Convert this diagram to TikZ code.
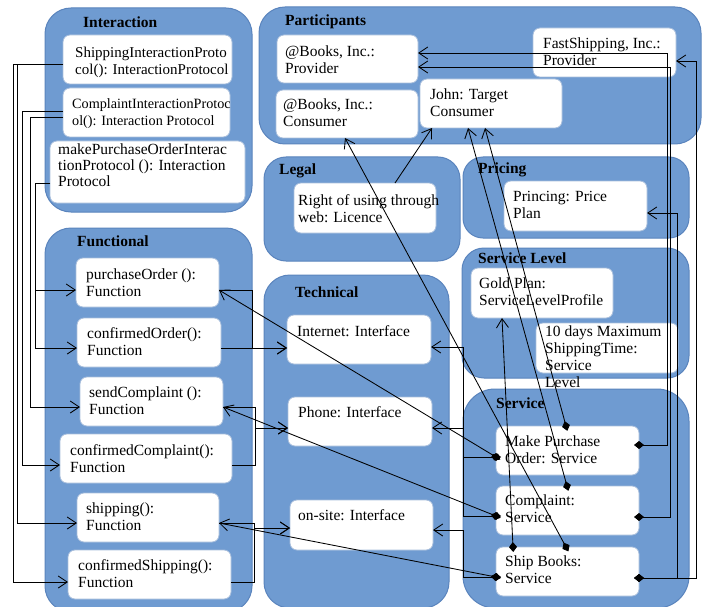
\documentclass[tikz,border=0pt]{standalone}
\usepackage{fontspec}
\setmainfont{Liberation Serif}
\usetikzlibrary{arrows.meta,fit}
\definecolor{contfill}{HTML}{6F9BD1}
\definecolor{contline}{HTML}{5A84BD}
\definecolor{boxline}{HTML}{A8BEDC}
\newcommand\bxfont{\fontsize{15.5}{17}\selectfont}
\newcommand\ttlfont{\fontsize{15.5}{17}\selectfont\bfseries}
\begin{document}
\begin{tikzpicture}[x=1pt,y=-1pt,
  cont/.style={draw=contline, line width=1pt, fill=contfill, rounded corners=26pt, inner sep=0pt, outer sep=0pt},
  wbox/.style={draw=boxline, line width=0.8pt, fill=white, rounded corners=7pt, inner sep=0pt, outer sep=0pt},
  ttl/.style={font=\ttlfont, anchor=base west, inner sep=0pt},
  txt/.style={font=\bxfont, align=left, anchor=north west, inner sep=0pt, yshift=11.9pt},
  wire/.style={line width=0.85pt, draw=black},
  arr/.style={-{Straight Barb[length=9pt,width=12pt]}},
  diarr/.style={{Diamond[length=10pt,width=8pt]}-{Straight Barb[length=9pt,width=12pt]}, shorten <=-5pt},
]
\path[use as bounding box, fill=white] (0,0) rectangle (704,607);

% group containers
\node[cont, fit={(45,8) (252,212)}] (interaction) {};
\node[cont, fit={(45,228) (252,612)}] (functional) {};
\node[cont, fit={(259,7) (701,144)}] (participants) {};
\node[cont, rounded corners=22pt, fit={(264,157) (460,261)}] (legal) {};
\node[cont, rounded corners=20pt, fit={(463,157) (689,238)}] (pricing) {};
\node[cont, rounded corners=22pt, fit={(462,248) (689,378)}] (servicelevel) {};
\node[cont, fit={(264,275) (449,608)}] (technical) {};
\node[cont, rounded corners=32pt, fit={(463,389) (689,608)}] (service) {};

% element boxes
\node[wbox, fit={(63,35) (232,84)}] (shipProt) {};
\node[wbox, fit={(63,88) (230,137)}] (compProt) {};
\node[wbox, fit={(50,141) (245,203)}] (mpoProt) {};
\node[wbox, fit={(76,258) (219,307)}] (fPurchase) {};
\node[wbox, fit={(77,318) (221,367)}] (fConfOrder) {};
\node[wbox, fit={(80,377) (223,426)}] (fSendComp) {};
\node[wbox, fit={(60,434) (232,483)}] (fConfComp) {};
\node[wbox, fit={(77,493) (219,542)}] (fShipping) {};
\node[wbox, fit={(68,550) (231,599)}] (fConfShip) {};
\node[wbox, fit={(277,35) (418,83)}] (pProvider) {};
\node[wbox, fit={(276,90) (418,138)}] (pConsumer) {};
\node[wbox, fit={(420,79) (562,128)}] (pJohn) {};
\node[wbox, fit={(533,28) (676,77)}] (pFast) {};
\node[wbox, fit={(294,183) (436,233)}] (lRight) {};
\node[wbox, fit={(504,181) (647,231)}] (prPlan) {};
\node[wbox, fit={(471,268) (613,318)}] (slGold) {};
\node[wbox, fit={(536,323) (678,373)}] (slDays) {};
\node[wbox, fit={(287,315) (431,364)}] (tInternet) {};
\node[wbox, fit={(288,397) (432,446)}] (tPhone) {};
\node[wbox, fit={(290,500) (433,550)}] (tOnsite) {};
\node[wbox, fit={(496,426) (639,475)}] (sMPO) {};
\node[wbox, fit={(496,486) (639,535)}] (sComp) {};
\node[wbox, fit={(496,547) (639,596)}] (sShip) {};

% group titles
\node[ttl] (hInteraction) at (83,28) {Interaction};
\node[ttl] (hFunctional) at (77,246) {Functional};
\node[ttl] (hParticipants) at (285,26) {Participants};
\node[ttl] (hLegal) at (279,174) {Legal};
\node[ttl] (hPricing) at (478,173) {Pricing};
\node[ttl] (hServiceLevel) at (478,263) {Service Level};
\node[ttl] (hTechnical) at (295,297) {Technical};
\node[ttl] (hService) at (496,408) {Service};

% element texts (placed by first baseline)
\node[txt, font=\fontsize{15}{17}\selectfont] (shipProt-t) at (75,57) {\strut ShippingInteractionProto\\col(): InteractionProtocol};
\node[txt, font=\fontsize{14.2}{17}\selectfont] (compProt-t) at (72,108) {\strut ComplaintInteractionProtoc\\ol(): Interaction Protocol};
\node[txt, font=\fontsize{15.5}{16}\selectfont] (mpoProt-t) at (58,155) {\strut makePurchaseOrderInterac\\tionProtocol (): Interaction\\Protocol};
\node[txt] (fPurchase-t) at (86,279) {\strut purchaseOrder ():\\Function};
\node[txt] (fConfOrder-t) at (87,338) {\strut confirmedOrder():\\Function};
\node[txt] (fSendComp-t) at (89,397) {\strut sendComplaint ():\\Function};
\node[txt] (fConfComp-t) at (70,455) {\strut confirmedComplaint():\\Function};
\node[txt] (fShipping-t) at (86,513) {\strut shipping():\\Function};
\node[txt] (fConfShip-t) at (78,570) {\strut confirmedShipping():\\Function};
\node[txt] (pProvider-t) at (285,56) {\strut @Books, Inc.:\\Provider};
\node[txt] (pConsumer-t) at (283,109) {\strut @Books, Inc.:\\Consumer};
\node[txt] (pJohn-t) at (430,99) {\strut John: Target\\Consumer};
\node[txt] (pFast-t) at (543,48) {\strut FastShipping, Inc.:\\Provider};
\node[txt] (lRight-t) at (298,205) {\strut Right of using through\\web: Licence};
\node[txt] (prPlan-t) at (513,201) {\strut Princing: Price\\Plan};
\node[txt] (slGold-t) at (479,288) {\strut Gold Plan:\\ServiceLevelProfile};
\node[txt] (slDays-t) at (545,336) {\strut 10 days Maximum\\ShippingTime:\\Service\\Level};
\node[txt] (tInternet-t) at (297,336) {\strut Internet: Interface};
\node[txt] (tPhone-t) at (298,417) {\strut Phone: Interface};
\node[txt] (tOnsite-t) at (298,520) {\strut on-site: Interface};
\node[txt] (sMPO-t) at (505,446) {\strut Make Purchase\\Order: Service};
\node[txt] (sComp-t) at (505,505) {\strut Complaint:\\Service};
\node[txt] (sShip-t) at (505,566) {\strut Ship Books:\\Service};

% interaction protocols to functions
\draw[wire,arr] (shipProt.west|-0,64) -| (17,523) -- (fShipping.west|-0,523);
\draw[wire,arr] (shipProt.west|-0,64) -| (13,582) -- (fConfShip.west|-0,582);
\draw[wire,arr] (compProt.west|-0,111) -| (22,465) -- (fConfComp.west|-0,465);
\draw[wire,arr] (compProt.west|-0,117) -| (30,407) -- (fSendComp.west|-0,407);
\draw[wire,arr] (mpoProt.west|-0,183) -| (35,290) -- (fPurchase.west|-0,290);
\draw[wire,arr] (mpoProt.west|-0,183) -| (35,348) -- (fConfOrder.west|-0,348);

% functions to interfaces
\draw[wire,arr] (fPurchase.east|-0,290) -| (252,348) -- (tInternet.west|-0,348);
\draw[wire,arr] (fConfOrder.east|-0,348) -- (tInternet.west|-0,348);
\draw[wire,arr] (fSendComp.east|-0,407) -| (255,428) -- (tPhone.west|-0,428);
\draw[wire,arr] (fConfComp.east|-0,465) -| (255,428) -- (tPhone.west|-0,428);
\draw[wire,arr] (fShipping.east|-0,523) -| (254,528) -- (tOnsite.west|-0,528);
\draw[wire,arr] (fConfShip.east|-0,582) -| (254,528) -- (tOnsite.west|-0,528);

% services to interfaces
\draw[wire,diarr] (sMPO.west|-0,457) -| (463,347) -- (tInternet.east|-0,347);
\draw[wire,diarr] (sComp.west|-0,516) -| (463,428) -- (tPhone.east|-0,428);
\draw[wire,diarr] (sShip.west|-0,577) -| (463,530) -- (tOnsite.east|-0,530);

% services to functions
\draw[wire,diarr] (sMPO.west|-0,457) -- (fPurchase.east|-0,290);
\draw[wire,diarr] (sComp.west|-0,516) -- (fSendComp.east|-0,407);
\draw[wire,diarr] (sShip.west|-0,577) -- (fShipping.east|-0,523);

% services to participants and service level
\draw[wire,diarr] (sShip.north-|566,0) -- (pConsumer.south-|345,0);
\draw[wire,diarr] (sShip.north-|513,0) -- (slGold.south-|502,0);
\draw[wire,diarr] (sMPO.north-|566,0) -- (pJohn.south-|485,0);
\draw[wire,diarr] (sComp.north-|567,0) -- (pJohn.south-|468,0);
\draw[wire,arr] (lRight.north-|395,0) -- (pJohn.south-|432,0);

% services to providers and pricing
\draw[wire,diarr] (sMPO.east|-0,445) -| (667,53) -- (pProvider.east|-0,53);
\draw[wire,diarr] (sComp.east|-0,517) -| (670,67) -- (pProvider.east|-0,67);
\draw[wire,diarr] (sShip.east|-0,578) -| (677,213) -- (prPlan.east|-0,213);
\draw[wire,diarr] (sShip.east|-0,578) -| (696,61) -- (pFast.east|-0,61);
\end{tikzpicture}
\end{document}
